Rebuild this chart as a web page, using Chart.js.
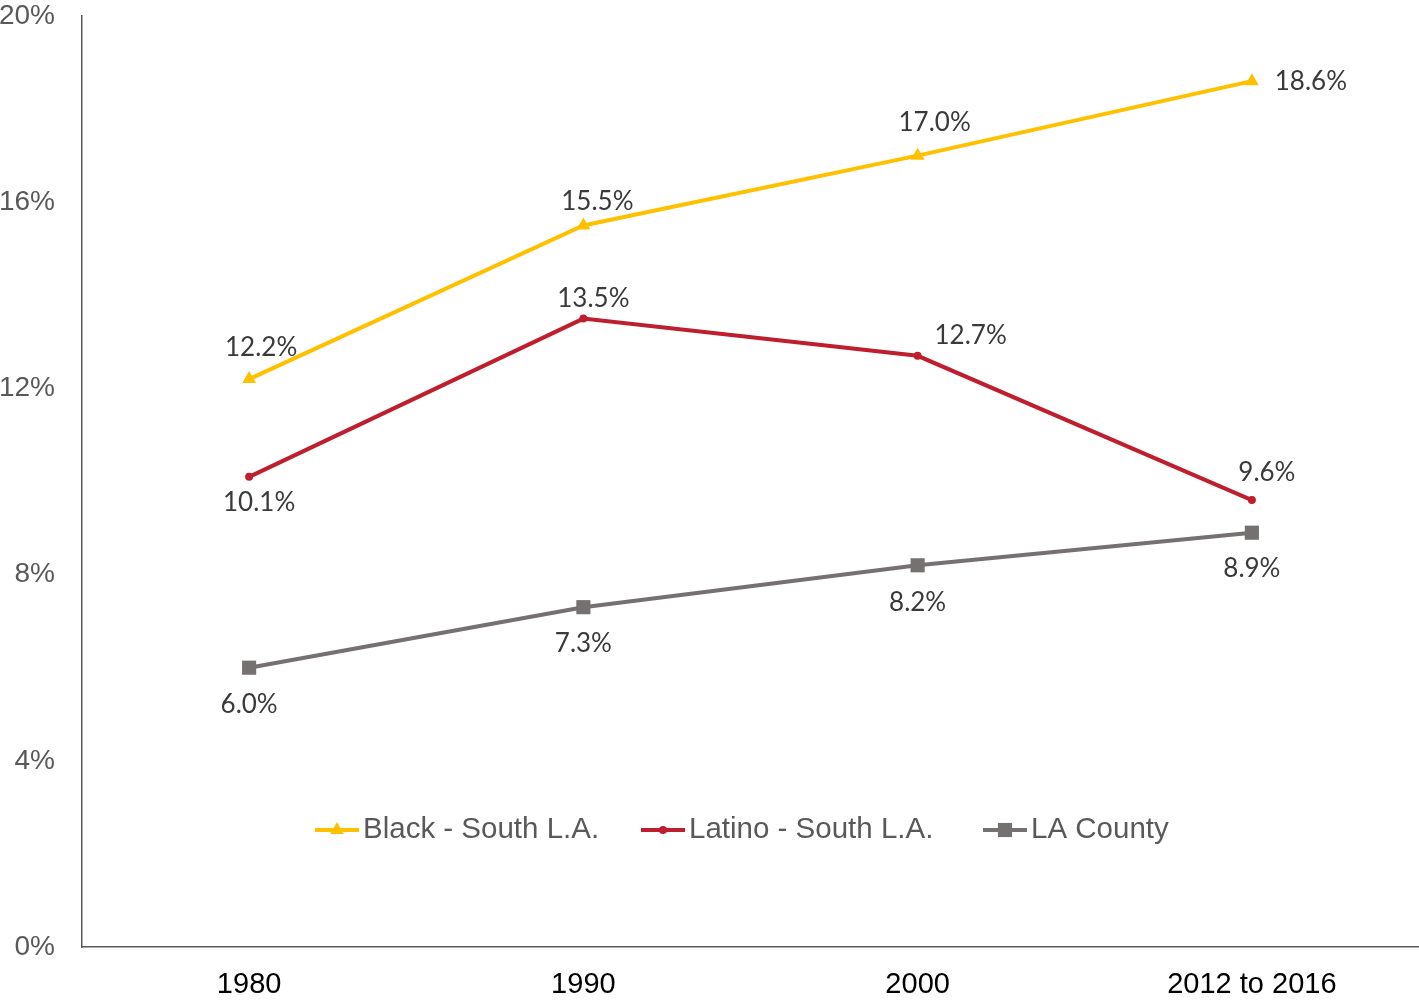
<!DOCTYPE html>
<html>
<head>
<meta charset="utf-8">
<script src="https://cdn.jsdelivr.net/npm/chart.js@4/dist/chart.umd.min.js"></script>
<style>
  html, body { margin:0; padding:0; background:#fff; overflow:hidden; }
  #wrap { width:1419px; height:1003px; }
  canvas { display:block; }
</style>
</head>
<body>
<div id="wrap"><canvas id="grafico" width="1419" height="1003"></canvas></div>
<script>
const anos = ["1980", "1990", "2000", "2012 to 2016"];
const blackSouthLA = [12.2, 15.5, 17.0, 18.6];
const latinoSouthLA = [10.1, 13.5, 12.7, 9.6];
const laCounty = [6.0, 7.3, 8.2, 8.9];
const yTicks = [0, 4, 8, 12, 16, 20];
const nomes = ["Black - South L.A.", "Latino - South L.A.", "LA County"];

const cores = ["#FFC000", "#BE1E2D", "#767171"];
const simbolos = ["triangle", "circle", "rect"];
const raios = [8, 4, 10];

/* deslocamento dos rótulos (dx, dy) por série */
const desloc = [
  [[12,-31],[14,-24],[17,-33],[59,0]],
  [[10,26],[10,-20],[53,-20],[15,-28]],
  [[0,37],[0,36],[0,37],[0,36]]
];
/* início de cada item da legenda */
const legendaX = [315, 641, 983];

/* RÓTULOS DOS PONTOS */
const rotulos = {
  id: "rotulos",
  afterDatasetsDraw(chart){
    const ctx = chart.ctx;
    ctx.save();
    ctx.font = "26px Lato";
    ctx.fillStyle = "#3a3a3a";
    ctx.textAlign = "center";
    ctx.textBaseline = "middle";
    chart.data.datasets.forEach((ds, i)=>{
      chart.getDatasetMeta(i).data.forEach((pt, j)=>{
        const d = desloc[i][j];
        ctx.fillText(ds.data[j].toFixed(1) + "%", pt.x + d[0], pt.y + d[1]);
      });
    });
    ctx.restore();
  }
};

/* LEGENDA DENTRO DO GRÁFICO */
function marcador(ctx, tipo, x, y, r){
  ctx.beginPath();
  if(tipo==="triangle"){
    ctx.moveTo(x, y - r);
    ctx.lineTo(x + r*0.866, y + r*0.5);
    ctx.lineTo(x - r*0.866, y + r*0.5);
    ctx.closePath();
  } else if(tipo==="rect"){
    const s = r*Math.SQRT1_2;
    ctx.rect(x - s, y - s, 2*s, 2*s);
  } else {
    ctx.arc(x, y, r, 0, Math.PI*2);
  }
  ctx.fill();
}

const legenda = {
  id: "legenda",
  afterDraw(chart){
    const ctx = chart.ctx;
    ctx.save();
    ctx.font = "29.5px 'Liberation Sans'";
    ctx.textBaseline = "middle";
    ctx.textAlign = "left";
    const y = 830;
    nomes.forEach((nome, i)=>{
      const x = legendaX[i];
      ctx.strokeStyle = cores[i];
      ctx.fillStyle = cores[i];
      ctx.lineWidth = 4;
      ctx.beginPath();
      ctx.moveTo(x, y);
      ctx.lineTo(x + 44, y);
      ctx.stroke();
      marcador(ctx, simbolos[i], x + 22, y, raios[i]);
      ctx.fillStyle = "#595959";
      ctx.fillText(nome, x + 48, y);
    });
    ctx.restore();
  }
};

const series = [blackSouthLA, latinoSouthLA, laCounty];

new Chart(document.getElementById("grafico"), {
  type: "line",
  data: {
    labels: anos,
    datasets: series.map((dados, i)=>({
      label: nomes[i],
      data: dados,
      borderColor: cores[i],
      backgroundColor: cores[i],
      pointBackgroundColor: cores[i],
      pointBorderWidth: 0,
      pointStyle: simbolos[i],
      pointRadius: raios[i],
      borderWidth: 4,
      tension: 0,
      clip: false
    }))
  },
  options: {
    responsive: false,
    devicePixelRatio: 1,
    animation: false,
    layout: { autoPadding: false, padding: { top: 16, right: 0, left: 0, bottom: 0 } },
    plugins: { legend: { display: false }, tooltip: { enabled: false } },
    scales: {
      x: {
        offset: true,
        grid: { display: false, drawTicks: false },
        border: { display: true, color: "#595959", width: 1.5 },
        ticks: { color: "#000", font: { family: "Liberation Sans", size: 29 }, padding: 21, maxRotation: 0 },
        afterFit(s){ s.height = 56; s.paddingLeft = 0; s.paddingRight = 0; }
      },
      y: {
        min: 0, max: 20,
        afterBuildTicks(s){ s.ticks = yTicks.map(v=>({value:v})); },
        grid: { display: false, drawTicks: false },
        border: { display: true, color: "#595959", width: 1.5 },
        ticks: { color: "#595959", font: { family: "Liberation Sans", size: 28 }, padding: 27,
                 callback: v => v + "%" },
        afterFit(s){ s.width = 82; s.paddingTop = 0; s.paddingBottom = 0; }
      }
    }
  },
  plugins: [rotulos, legenda]
});
</script>
</body>
</html>
